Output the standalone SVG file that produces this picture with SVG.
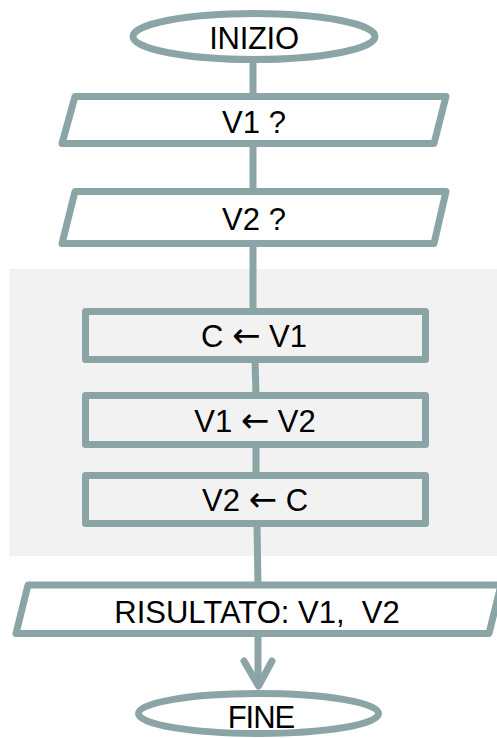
<svg xmlns="http://www.w3.org/2000/svg" width="497" height="738" viewBox="0 0 497 738">
<style>
.shape{fill:#ffffff;stroke:#8ba4a6;stroke-width:7;stroke-linejoin:round}
.box{fill:#f2f2f2;stroke:#8ba4a6;stroke-width:7;stroke-linejoin:round}
.conn{fill:none;stroke:#8ba4a6;stroke-width:7;stroke-linecap:butt}
.head{fill:none;stroke:#8ba4a6;stroke-width:7;stroke-linecap:round;stroke-linejoin:round}
.lbl{font-family:"Liberation Sans",Arial,sans-serif;font-size:31px;fill:#000000;text-anchor:middle;white-space:pre}
.arr{font-family:"DejaVu Sans",sans-serif;font-size:34px}
</style>
<rect x="9" y="269" width="490" height="287" fill="#f2f2f2"/>
<g id="connectors">
<line class="conn" x1="253" y1="58" x2="253" y2="97"/>
<line class="conn" x1="253" y1="143" x2="253" y2="192"/>
<line class="conn" x1="253" y1="243" x2="253" y2="312"/>
<line class="conn" x1="255" y1="359" x2="256" y2="396"/>
<line class="conn" x1="256" y1="444" x2="256" y2="476"/>
<line class="conn" x1="257" y1="523" x2="258" y2="586"/>
<line class="conn" x1="258" y1="633" x2="258" y2="686"/>
<polyline class="head" points="244,661 258.5,686 272,661"/>
</g>
<g id="inizio">
<ellipse class="shape" cx="254" cy="36.5" rx="121" ry="23"/>
<text class="lbl" x="254" y="49" letter-spacing="-0.3">INIZIO</text>
</g>
<g id="v1-input">
<polygon class="shape" points="75,96.5 446,96.5 434,143.5 62,143.5"/>
<text class="lbl" x="254" y="133">V1 ?</text>
</g>
<g id="v2-input">
<polygon class="shape" points="75,191.5 446,191.5 434,243.5 62,243.5"/>
<text class="lbl" x="254" y="230">V2 ?</text>
</g>
<g id="c-v1">
<rect class="box" x="85.5" y="311.5" width="340" height="48"/>
<text class="lbl" x="254" y="347" xml:space="preserve">C <tspan class="arr">←</tspan> V1</text>
</g>
<g id="v1-v2">
<rect class="box" x="85.5" y="395.5" width="340" height="49"/>
<text class="lbl" x="255" y="432" xml:space="preserve">V1 <tspan class="arr">←</tspan> V2</text>
</g>
<g id="v2-c">
<rect class="box" x="85.5" y="475.5" width="340" height="48"/>
<text class="lbl" x="255" y="511" xml:space="preserve">V2 <tspan class="arr">←</tspan> C</text>
</g>
<g id="risultato">
<polygon class="shape" points="28,585 501,585 489,633.5 16,633.5"/>
<text class="lbl" x="257" y="623" xml:space="preserve">RISULTATO: V1,  V2</text>
</g>
<g id="fine">
<ellipse class="shape" cx="258.5" cy="713.5" rx="120" ry="20"/>
<text class="lbl" x="261" y="728" letter-spacing="-1">FINE</text>
</g>
</svg>
